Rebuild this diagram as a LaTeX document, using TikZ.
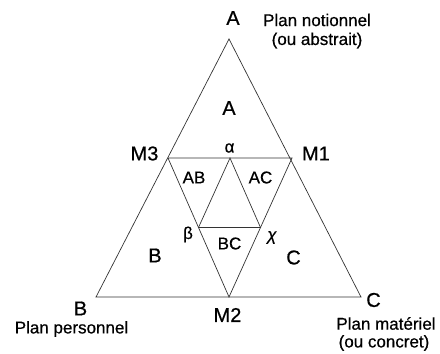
\documentclass[tikz,border=0pt]{standalone}
\usepackage{fontspec}
\setmainfont{Liberation Sans}
\usetikzlibrary{calc,positioning}

\begin{document}
\begin{tikzpicture}[x=1pt, y=-1pt,
  edge/.style={line width=0.7pt, black!80},
  big/.style={font=\fontsize{20}{22}\selectfont\addfontfeatures{FakeBold=0.6}, inner sep=0pt},
  small/.style={font=\fontsize{17}{19}\selectfont\addfontfeatures{FakeBold=0.6}, inner sep=0pt}]
  \useasboundingbox (0,0) rectangle (440,354);
  % === Outer triangle and middle points ===
  \coordinate (A) at (229,39);
  \coordinate (B) at (96,297);
  \coordinate (C) at (361,297);
  \coordinate (M3) at (168,158);
  \coordinate (M1) at (292,158);
  \coordinate (M2) at (229,297);
  % Inner triangle (alpha, beta, chi)
  \coordinate (Ia) at ($(M3)!0.5!(M1)$);
  \coordinate (Ib) at ($(M3)!0.5!(M2)$);
  \coordinate (Ic) at ($(M1)!0.5!(M2)$);
  \draw[edge] (A) -- (B) -- (C) -- cycle;
  \draw[edge] (M3) -- (M1) -- (M2) -- cycle;
  \draw[edge] (Ia) -- (Ib) -- (Ic) -- cycle;
  % === Vertex labels ===
  \node[big] (lA) at (233,18) {A};
  \node[small] (pn) at (317,20) {Plan notionnel};
  \node[small, below=6pt of pn] (pnb) {(ou abstrait)};
  \node[big] (lB) at (80.5,308.5) {B};
  \node[small] (pp) at (71.5,329) {Plan personnel};
  \node[big] (lC) at (373.5,300) {C};
  \node[small] (pm) at (386,323.5) {Plan matériel};
  \node[small] (pmb) at (384,343) {(ou concret)};
  \node[big] (lM3) at (144.5,153.5) {M3};
  \node[big] (lM1) at (316,153.5) {M1};
  \node[big] (lM2) at (227.5,315) {M2};
  % === Region labels ===
  \node[big] (rA) at (229,108) {A};
  \node[big] (rB) at (155,255.5) {B};
  \node[big] (rC) at (293.5,257.5) {C};
  \node[small] (rAB) at (194,177.5) {AB};
  \node[small] (rAC) at (260.5,177.5) {AC};
  \node[small] (rBC) at (229.5,243.5) {BC};
  \node[small] (ga) at (229.5,148) {α};
  \node[small] (gb) at (188,234.5) {β};
  \node[small] (gc) at (272,237.5) {\textit{χ}};
\end{tikzpicture}
\end{document}
